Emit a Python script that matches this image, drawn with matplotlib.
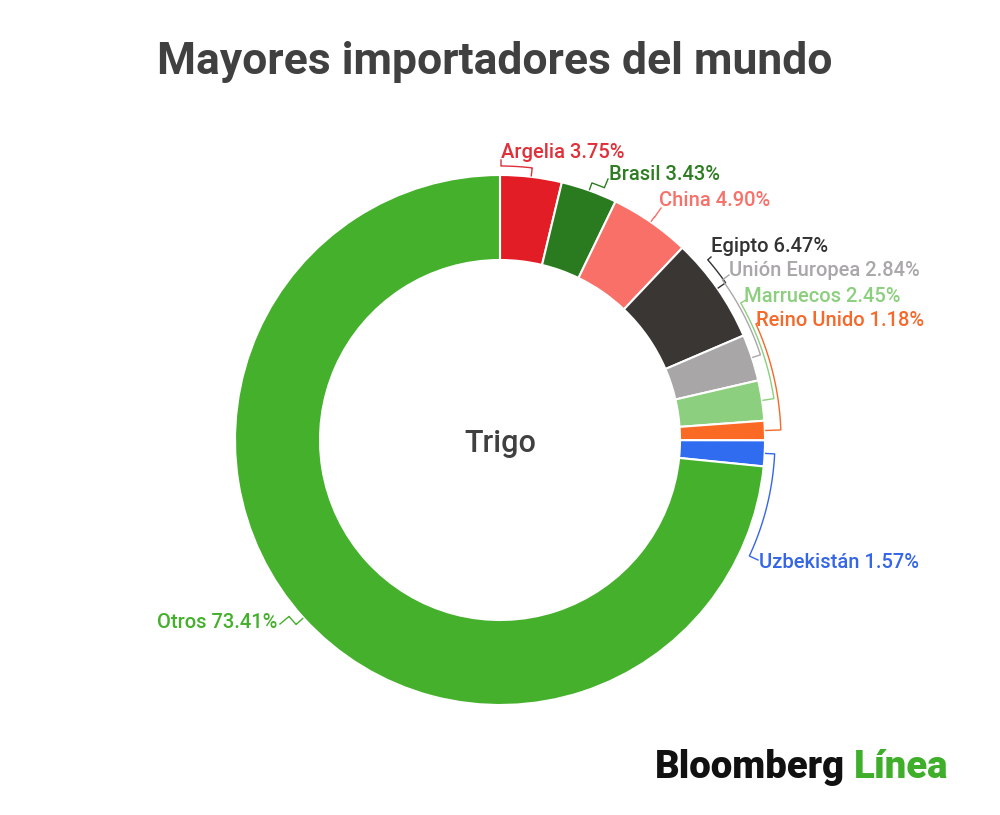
import numpy as np
import matplotlib
matplotlib.use("Agg")
from matplotlib import pyplot as plt

plt.rcParams['font.family'] = ['Roboto', 'DejaVu Sans']

# data
countries = ["Argelia", "Brasil", "China", "Egipto", "Unión Europea",
             "Marruecos", "Reino Unido", "Uzbekistán", "Otros"]
shares = [3.75, 3.43, 4.90, 6.47, 2.84, 2.45, 1.18, 1.57, 73.41]
colors = ["#e31d25", "#2a7b1f", "#f87068", "#393634", "#a8a6a7",
          "#8ccf7e", "#fb6a25", "#2f6cf0", "#44b02b"]
text_colors = ["#e0303a", "#2e7d22", "#f7716a", "#333333", "#a9a7a9",
               "#8ccf7e", "#f5692a", "#3566e8", "#45b02c"]

# layout (pixel coords, y down) - label text pos, leader anchor, elbow offset
cx, cy = 500, 440
R, W = 265, 85
text_pos = [(501, 152, 'left'), (609, 175, 'left'), (659, 201, 'left'),
            (711, 247, 'left'), (729, 271, 'left'), (744, 296, 'left'),
            (756, 320, 'left'), (759, 563, 'left'), (277, 623, 'right')]
anchors = [(501, 160), (608, 179), (661, 208), (711, 257), (729, 275),
           (746, 300), (758, 323), (758, 560), (280, 624)]
elbow = [9, 8, 6, 10, 9, 12, 16, 10, 10]

H = 815
fig = plt.figure(figsize=(10, 8.15), dpi=100)
ax = fig.add_axes([0, 0, 1, 1])

ax.pie(shares, colors=colors, startangle=90, counterclock=False,
       radius=R, center=(cx, H - cy),
       wedgeprops=dict(width=W, edgecolor='white', linewidth=1.5))
ax.set_xlim(0, 1000)
ax.set_ylim(0, H)
ax.set_aspect('equal')
ax.axis('off')

# leader lines + labels
cum = np.cumsum([0] + shares[:-1])
for i, name in enumerate(countries):
    mid = np.radians((cum[i] + shares[i] / 2) * 3.6)  # clockwise from top
    ax_x, ax_y = anchors[i]
    a_end = np.arctan2(ax_x - cx, cy - ax_y) % (2 * np.pi)
    if a_end - mid > np.pi:
        a_end -= 2 * np.pi
    re = R + elbow[i]
    th = np.linspace(mid, a_end, 40)
    xs = [cx + (R + 1) * np.sin(mid)] + list(cx + re * np.sin(th)) + [ax_x]
    ys = [cy - (R + 1) * np.cos(mid)] + list(cy - re * np.cos(th)) + [ax_y]
    ax.plot(xs, [H - y for y in ys], color=text_colors[i], lw=1.0,
            solid_joinstyle='round')
    tx, ty, ha = text_pos[i]
    ax.text(tx, H - ty, f"{name} {shares[i]:.2f}%", color=text_colors[i],
            fontsize=14.5, ha=ha, va='center', fontweight='medium')

ax.text(cx, H - 443, "Trigo", fontsize=22, color='#404040', ha='center',
        va='center', fontweight='medium')

fig.text(0.495, 1 - 62 / H, "Mayores importadores del mundo", fontsize=32,
         fontweight='bold', color='#404040', ha='center', va='center')

# logo
t1 = fig.text(655 / 1000, 1 - 768 / H, "Bloomberg", fontsize=27.5,
              fontweight='heavy', color='#111111', ha='left', va='center')
fig.canvas.draw()
bb = t1.get_window_extent()
fig.text(bb.x1 / 1000 + 0.009, 1 - 768 / H, "Línea", fontsize=27.5,
         fontweight='heavy', color='#3fae2a', ha='left', va='center')

fig.savefig("out.png", dpi=100, facecolor='white')
